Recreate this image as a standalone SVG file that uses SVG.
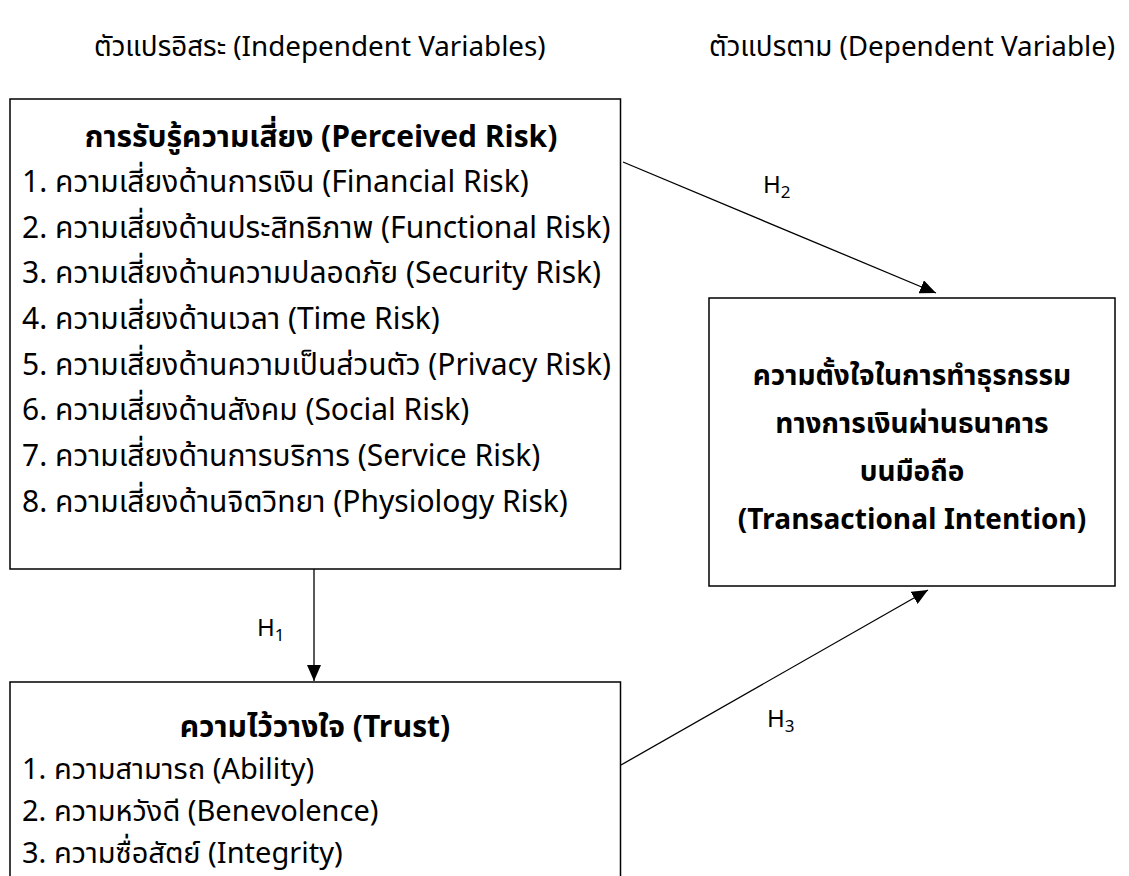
<svg xmlns="http://www.w3.org/2000/svg" width="1129" height="876" viewBox="0 0 1129 876">
<style>
text{font-family:"Noto Sans Thai","Noto Sans","DejaVu Sans",sans-serif;fill:#000;font-size:30px}
.b{font-weight:bold}
.r{font-size:28px}
.t{font-size:29px}
.box{fill:#fff;stroke:#000;stroke-width:1.5}
.c{stroke:#000;stroke-width:1.3;fill:none}
.hd{font-size:27.8px}
.h{font-size:24px}
.sub{font-size:17px}
</style>
<defs>
<marker id="ah" viewBox="0 0 10 10" refX="10" refY="5" markerWidth="16" markerHeight="14" markerUnits="userSpaceOnUse" orient="auto" preserveAspectRatio="none"><path d="M0,0 L10,5 L0,10 z" fill="#000"/></marker>
</defs>
<rect width="1129" height="876" fill="#fff"/>
<g id="headers">
<text class="hd" x="94" y="56">ตัวแปรอิสระ (Independent Variables)</text>
<text class="hd" x="709" y="56">ตัวแปรตาม (Dependent Variable)</text>
</g>
<g id="perceived-risk">
<rect class="box" x="10" y="99" width="610.5" height="470"/>
<text class="b" x="321" y="147" text-anchor="middle">การรับรู้ความเสี่ยง (Perceived Risk)</text>
<text x="22" y="192">1. ความเสี่ยงด้านการเงิน (Financial Risk)</text>
<text x="22" y="238">2. ความเสี่ยงด้านประสิทธิภาพ (Functional Risk)</text>
<text x="22" y="283">3. ความเสี่ยงด้านความปลอดภัย (Security Risk)</text>
<text x="22" y="329">4. ความเสี่ยงด้านเวลา (Time Risk)</text>
<text x="22" y="375">5. ความเสี่ยงด้านความเป็นส่วนตัว (Privacy Risk)</text>
<text x="22" y="420">6. ความเสี่ยงด้านสังคม (Social Risk)</text>
<text x="22" y="466">7. ความเสี่ยงด้านการบริการ (Service Risk)</text>
<text x="22" y="512">8. ความเสี่ยงด้านจิตวิทยา (Physiology Risk)</text>
</g>
<g id="trust">
<rect class="box" x="10" y="682" width="610.5" height="210"/>
<text class="b" x="315" y="737" text-anchor="middle">ความไว้วางใจ (Trust)</text>
<text class="t" x="22" y="779">1. ความสามารถ (Ability)</text>
<text class="t" x="22" y="821">2. ความหวังดี (Benevolence)</text>
<text class="t" x="22" y="863">3. ความซื่อสัตย์ (Integrity)</text>
</g>
<g id="transactional-intention">
<rect class="box" x="709" y="298" width="406" height="288"/>
<text class="b r" x="912" y="385" text-anchor="middle">ความตั้งใจในการทำธุรกรรม</text>
<text class="b r" x="912" y="433" text-anchor="middle">ทางการเงินผ่านธนาคาร</text>
<text class="b r" x="912" y="481" text-anchor="middle">บนมือถือ</text>
<text class="b r" x="912" y="529" text-anchor="middle">(Transactional Intention)</text>
</g>
<g id="connectors">
<line class="c" x1="623" y1="162" x2="936" y2="293" marker-end="url(#ah)"/>
<line class="c" x1="314" y1="569" x2="314" y2="681" marker-end="url(#ah)"/>
<line class="c" x1="621" y1="765" x2="928" y2="590" marker-end="url(#ah)"/>
<text class="h" x="763" y="193">H<tspan class="sub" dy="5">2</tspan></text>
<text class="h" x="257" y="636">H<tspan class="sub" dy="5">1</tspan></text>
<text class="h" x="767" y="727">H<tspan class="sub" dy="5">3</tspan></text>
</g>
</svg>
